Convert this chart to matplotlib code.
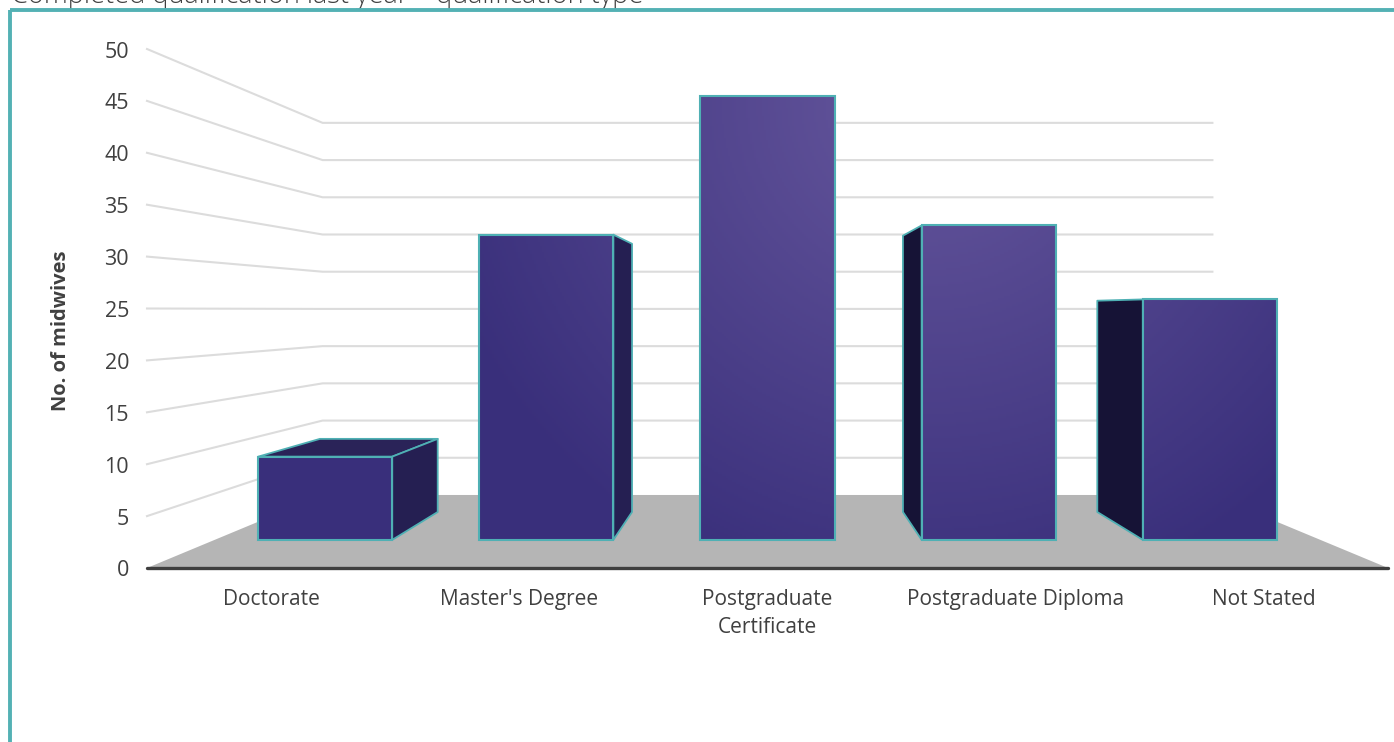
"""3D-look column chart: completed qualification by type."""

import numpy as np
import matplotlib.pyplot as plt
from matplotlib.colors import LinearSegmentedColormap
from matplotlib.patches import Polygon, Rectangle

categories = ["Doctorate", "Master's Degree", "Postgraduate\nCertificate", "Postgraduate Diploma", "Not Stated"]
values = [9, 33, 48, 34, 26]
y_ticks = [0, 5, 10, 15, 20, 25, 30, 35, 40, 45, 50]

TITLE = "Completed qualification last year \u2013 qualification type"
YLABEL = "No. of midwives"

TEXT = "#404040"
TEAL = "#4fb0b4"
FRAME = "#53b1b4"
GRID = "#dcdcdc"
FLOOR = "#b5b5b5"
TOP_FACE = "#2a2358"
RIGHT_FACE = "#251f52"
LEFT_FACE = "#161336"

# perspective set-up, in pixels of the picture
CX = 767.5
HORIZON = 310.0
FRONT_Y = 568.0
UNIT = 10.38
SLOT = 248.2
BAR_FRAC = 0.606
S_FRONT, S_BAR_FRONT, S_BAR_BACK, S_BACK = 1.0, 0.891, 0.783, 0.717


def project(cat, value, s):
    """cat in slots (0..5 across the floor), value in midwives, s = depth scale."""
    x = CX + (cat - 2.5) * SLOT * s
    y = HORIZON + (FRONT_Y - HORIZON - value * UNIT) * s
    return x, y


fig = plt.figure(figsize=(13.94, 7.42), dpi=100)
ax = fig.add_axes([0, 0, 1, 1])
ax.axis("off")

# gradient for front faces, brightest up and to the right of the middle
cmap = LinearSegmentedColormap.from_list("bar", ["#392f7b", "#66579d"])
xx, yy = np.meshgrid(np.arange(0, 1394, 2), np.arange(0, 742, 2))
glow = np.clip(1 - np.hypot(xx - 930, yy - 100) / 520, 0, 1)

# walls
for v in y_ticks[1:]:
    p0 = project(0, v, S_FRONT)
    p1 = project(0, v, S_BACK)
    p2 = project(5, v, S_BACK)
    ax.plot([p0[0], p1[0], p2[0]], [p0[1], p1[1], p2[1]], color=GRID, lw=1.5, zorder=1,
            solid_joinstyle="miter")

# floor
floor = [project(0, 0, S_FRONT), project(5, 0, S_FRONT), project(5, 0, S_BACK), project(0, 0, S_BACK)]
ax.add_patch(Polygon(floor, closed=True, fc=FLOOR, ec="none", zorder=2))
ax.plot([floor[0][0], floor[1][0]], [FRONT_Y, FRONT_Y], color="#3f3f3f", lw=2.4, zorder=3,
        solid_capstyle="round")

# bars
half = BAR_FRAC / 2
for i, v in enumerate(values):
    c0, c1 = i + 0.5 - half, i + 0.5 + half
    edge = dict(ec=TEAL, lw=1.3, joinstyle="round", zorder=4)
    if project(c1, v, S_BAR_FRONT)[1] > HORIZON:
        ax.add_patch(Polygon(
            [project(c0, v, S_BAR_FRONT), project(c1, v, S_BAR_FRONT),
             project(c1, v, S_BAR_BACK), project(c0, v, S_BAR_BACK)],
            closed=True, fc=TOP_FACE, **edge))
    if c1 < 2.5:
        ax.add_patch(Polygon(
            [project(c1, 0, S_BAR_FRONT), project(c1, 0, S_BAR_BACK),
             project(c1, v, S_BAR_BACK), project(c1, v, S_BAR_FRONT)],
            closed=True, fc=RIGHT_FACE, **edge))
    elif c0 > 2.5:
        ax.add_patch(Polygon(
            [project(c0, 0, S_BAR_FRONT), project(c0, 0, S_BAR_BACK),
             project(c0, v, S_BAR_BACK), project(c0, v, S_BAR_FRONT)],
            closed=True, fc=LEFT_FACE, **edge))
    front = Polygon(
        [project(c0, 0, S_BAR_FRONT), project(c1, 0, S_BAR_FRONT),
         project(c1, v, S_BAR_FRONT), project(c0, v, S_BAR_FRONT)],
        closed=True, fc="none", ec=TEAL, lw=1.5, joinstyle="miter", zorder=6)
    ax.add_patch(front)
    im = ax.imshow(glow, extent=(0, 1394, 742, 0), cmap=cmap, vmin=0, vmax=1, aspect="auto", zorder=5)
    im.set_clip_path(front)

ax.set_xlim(0, 1394)
ax.set_ylim(742, 0)

# text
for v in y_ticks:
    ax.text(129, project(0, v, S_FRONT)[1] + 3, str(v), ha="right", va="center",
            family="Open Sans", fontsize=15.5, color=TEXT)
for i, name in enumerate(categories):
    ax.text(project(i + 0.5, 0, S_FRONT)[0], 589, name, ha="center", va="top", family="Open Sans",
            fontsize=15, color=TEXT, linespacing=1.45)
ax.text(61, 331, YLABEL, rotation=90, ha="center", va="center", family="Open Sans",
        fontweight="bold", fontsize=14.5, color=TEXT)
ax.text(11, 3.5, TITLE, ha="left", va="baseline", family="Open Sans", fontweight="light",
        fontsize=19.5, color=TEXT, clip_on=True)

# frame round the chart, running off the right and bottom of the picture
ax.add_patch(Rectangle((10, 9.8), 1500, 900, fc="none", ec=FRAME, lw=2.8, zorder=7))

fig.savefig("out.png", dpi=100)
